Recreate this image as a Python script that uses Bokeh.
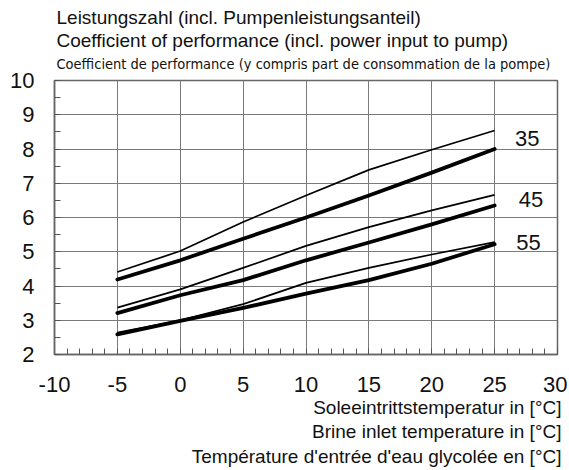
from bokeh.plotting import figure
from bokeh.models import Title, SingleIntervalTicker
from bokeh.core.properties import value
from bokeh.embed import file_html
from bokeh.resources import INLINE

# ---- data ----
brine_temp = [-5, 0, 5, 10, 15, 20, 25]
cop35_thin = [4.41, 5.02, 5.87, 6.64, 7.39, 7.98, 8.54]
cop35_thick = [4.19, 4.75, 5.38, 6.00, 6.64, 7.31, 8.00]
cop45_thin = [3.37, 3.90, 4.53, 5.17, 5.72, 6.21, 6.66]
cop45_thick = [3.21, 3.73, 4.17, 4.75, 5.27, 5.80, 6.35]
cop55_thin = [2.64, 3.00, 3.47, 4.09, 4.53, 4.92, 5.28]
cop55_thick = [2.59, 2.98, 3.36, 3.78, 4.17, 4.65, 5.22]
flow_labels = ["35", "45", "55"]
flow_label_x = [27.6, 27.9, 27.7]
flow_label_y = [8.32, 6.53, 5.28]
x_ticks = [-10, -5, 0, 5, 10, 15, 20, 25, 30]
x_tick_labels = ["-10", "-5", "0", "5", "10", "15", "20", "25", "30"]

title_lines = [
    "Leistungszahl (incl. Pumpenleistungsanteil)",
    "Coefficient of performance (incl. power input to pump)",
    "Coefficient de performance (y compris part de consommation de la pompe)",
]
xlabel_lines = [
    "Soleeintrittstemperatur in [°C]",
    "Brine inlet temperature in [°C]",
    "Température d'entrée d'eau glycolée en [°C]",
]

X0, X1, Y0, Y1 = -10, 30, 2, 10
FW, FH = 503, 274
BL, BT, BR, BB = 54, 80, 10, 110

p = figure(
    x_range=(X0, X1), y_range=(Y0, Y1),
    frame_width=FW, frame_height=FH,
    min_border_left=BL, min_border_top=BT, min_border_right=BR, min_border_bottom=BB,
    output_backend="svg", toolbar_location=None,
    background_fill_color="white", border_fill_color="white",
)
p.outline_line_color = "#666666"
p.outline_line_width = 1.5

FONT = "Liberation Sans"
TICK_SIZE = "22px"

p.xaxis.ticker = SingleIntervalTicker(interval=5, num_minor_ticks=5)
p.yaxis.ticker = SingleIntervalTicker(interval=1, num_minor_ticks=2)
p.xaxis.major_label_overrides = {t: s for t, s in zip(x_ticks, x_tick_labels)}
for ax in (p.xaxis[0], p.yaxis[0]):
    ax.axis_line_color = "#666666"
    ax.axis_line_width = 1.5
    ax.major_tick_out = 0
    ax.major_tick_in = 0
    ax.minor_tick_in = 6
    ax.minor_tick_out = 0
    ax.minor_tick_line_color = "#555555"
    ax.major_label_text_font = FONT
    ax.major_label_text_font_size = TICK_SIZE
    ax.major_label_text_color = "#111111"
p.yaxis.major_label_standoff = 20
p.xaxis.major_label_standoff = 22

p.xgrid.grid_line_color = "#7a7a7a"
p.ygrid.grid_line_color = "#7a7a7a"
p.xgrid.grid_line_width = 1
p.ygrid.grid_line_width = 1

thin_w, thick_w = 1.7, 3.8
for ys in (cop35_thin, cop45_thin, cop55_thin):
    p.line(brine_temp, ys, line_color="black", line_width=thin_w, line_join="round")
for ys in (cop35_thick, cop45_thick, cop55_thick):
    p.line(brine_temp, ys, line_color="black", line_width=thick_w, line_join="round", line_cap="round")

p.text(x=flow_label_x, y=flow_label_y, text=flow_labels,
       text_font=value(FONT), text_font_size="22px", text_color="#111111",
       text_align="center", text_baseline="middle")

# small spacer between frame and the title block
p.add_layout(Title(text=" ", text_font_size="2px", standoff=2), "above")

# titles above: added nearest-first
title_font = [FONT, FONT, "DejaVu Sans Condensed"]
title_size = ["19px", "19px", "14.5px"]
title_lh = [0.75, 0.85, 0.85]
title_standoff = [0, 0, 6]
for i in (2, 1, 0):
    p.add_layout(Title(text=title_lines[i], align="left", offset=2,
                       text_font=title_font[i], text_font_size=title_size[i],
                       text_font_style="normal", text_color="#111111",
                       text_line_height=title_lh[i],
                       standoff=title_standoff[i]), "above")

# x label lines below the axis
xl_standoff = [0, 3, 1]
for txt, so in zip(xlabel_lines, xl_standoff):
    p.add_layout(Title(text=txt, align="right", offset=-4,
                       text_font=FONT, text_font_size="19px",
                       text_font_style="normal", text_color="#111111",
                       standoff=so), "below")

open("out.html", "w").write(file_html(p, INLINE))
